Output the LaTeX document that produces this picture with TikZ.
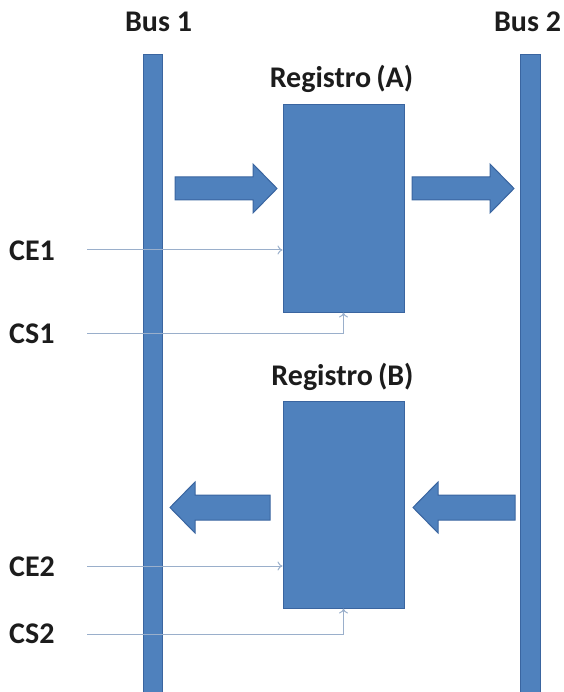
\documentclass[tikz,border=0pt]{standalone}
\usepackage{fontspec}
\setmainfont{Carlito}
\usetikzlibrary{arrows.meta}
\definecolor{fillblue}{HTML}{4F81BD}
\definecolor{edgeblue}{HTML}{3A65A0}
\definecolor{wireblue}{HTML}{9AAFCB}
\definecolor{inkgray}{HTML}{1C1C1C}
\begin{document}
\begin{tikzpicture}[x=1pt,y=-1pt,
  busbar/.style={fill=fillblue,draw=edgeblue,line width=1pt},
  regbox/.style={fill=fillblue,draw=edgeblue,line width=1pt,minimum width=121pt,minimum height=207pt,inner sep=0pt},
  blockarrow/.style={fill=fillblue,draw=edgeblue,line width=1pt,line join=miter},
  lbl/.style={font=\bfseries\fontsize{30}{34}\selectfont,text=inkgray,inner sep=0pt,anchor=base},
  sig/.style={lbl,anchor=base west},
  wire/.style={draw=wireblue,line width=1pt,-{To[length=5pt,width=9pt]}}]
\useasboundingbox (0,0) rectangle (563,692);

% buses
\draw[busbar] (143,55) rectangle (162,695);
\draw[busbar] (520,55) rectangle (540,695);
\node[lbl] (bus1) at (158.5,32) {Bus 1};
\node[lbl] (bus2) at (527.5,32) {Bus 2};

% registers
\node[regbox] (regA) at (343.5,208.5) {};
\node[regbox] (regB) at (343.5,504.5) {};
\node[lbl] (labA) at (341.5,88) {Registro\,(A)};
\node[lbl] (labB) at (342.5,385) {Registro\,(B)};

% data flow arrows
\draw[blockarrow] (175,177) -- (253,177) -- (253,164) -- (277,188.5) -- (253,213) -- (253,200) -- (175,200) -- cycle;
\draw[blockarrow] (412,177) -- (490,177) -- (490,164) -- (514,188.5) -- (490,213) -- (490,200) -- (412,200) -- cycle;
\draw[blockarrow] (270,495) -- (195,495) -- (195,482) -- (170,507.5) -- (195,533) -- (195,520) -- (270,520) -- cycle;
\draw[blockarrow] (515,495) -- (438,495) -- (438,482) -- (413,507.5) -- (438,533) -- (438,520) -- (515,520) -- cycle;

% control signals
\node[sig] (ce1) at (9,260) {CE1};
\node[sig] (cs1) at (9,343) {CS1};
\node[sig] (ce2) at (9,576) {CE2};
\node[sig] (cs2) at (9,643) {CS2};

\draw[wire] (87,250) -- (regA.west |- 0,250);
\draw[wire] (87,333) -| (regA.south);
\draw[wire] (87,566) -- (regB.west |- 0,566);
\draw[wire] (87,634) -| (regB.south);
\end{tikzpicture}
\end{document}
